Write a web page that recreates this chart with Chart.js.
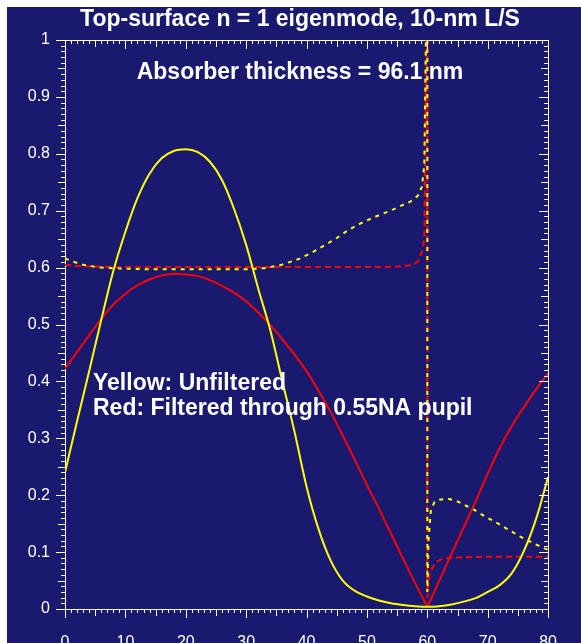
<!DOCTYPE html>
<html>
<head>
<meta charset="utf-8">
<script src="https://cdn.jsdelivr.net/npm/chart.js@4.4.0/dist/chart.umd.min.js"></script>
<style>
  html, body { margin: 0; padding: 0; background: #fff; overflow: hidden; }
  #wrap { position: absolute; left: 7px; top: 7px; width: 574px; height: 660px; }
  canvas { background: #191970; }
</style>
</head>
<body>
<div id="wrap"><canvas id="eigenChart" width="574" height="660"></canvas></div>
<script>
// values (x in nm, y = normalized intensity)
const solidX = [0,2,4,6,8,10,12,14,16,18,20,22,24,26,28,30,32,34,36,38,40,42,44,46,48,50,52,54,56,58,60,62,64,66,68,70,72,74,76,78,80];
const yellowSolid = [0.240,0.330,0.418,0.508,0.594,0.663,0.722,0.765,0.792,0.805,0.808,0.803,0.786,0.754,0.703,0.640,0.563,0.490,0.400,0.312,0.215,0.140,0.085,0.050,0.032,0.022,0.015,0.010,0.007,0.005,0.004,0.005,0.008,0.013,0.019,0.030,0.042,0.063,0.102,0.158,0.232];
const redSolid = [0.422,0.452,0.481,0.510,0.535,0.554,0.569,0.579,0.586,0.589,0.588,0.585,0.578,0.568,0.556,0.541,0.521,0.499,0.474,0.447,0.418,0.383,0.346,0.305,0.262,0.218,0.176,0.132,0.088,0.045,0.004,0.050,0.097,0.143,0.189,0.238,0.283,0.322,0.355,0.386,0.414];

const yellowDashX = [0,1,2,3,4,6,8,10,14,18,22,26,30,33,35.9,38.7,41,43.1,45,46.9,49,51.3,52.7,54.3,55.7,57.2,58.4,59.1,59.5,60,60,60.2,60.6,61.2,62,63.4,65,66.5,67.8,69.5,71.6,73.5,75.4,77.3,79.3,80];
const yellowDash = [0.616,0.612,0.608,0.605,0.603,0.600,0.599,0.598,0.597,0.597,0.597,0.597,0.597,0.599,0.605,0.615,0.627,0.640,0.652,0.666,0.678,0.689,0.695,0.702,0.709,0.716,0.726,0.742,0.780,1.2,0.03,0.12,0.175,0.188,0.192,0.194,0.189,0.181,0.174,0.163,0.151,0.139,0.127,0.117,0.107,0.104];

const redDashX = [0,2,4,8,15,25,35,45,52.9,55.1,57.2,58.4,59.1,59.5,60,60,60.2,60.4,61,61.5,62.6,64,66,70,75,80];
const redDash = [0.605,0.603,0.602,0.601,0.601,0.601,0.601,0.601,0.601,0.602,0.604,0.610,0.628,0.649,1.2,0.02,0.045,0.063,0.075,0.083,0.089,0.090,0.091,0.092,0.092,0.092];

const xTickLabels = ['0','10','20','30','40','50','60','70','80'];
const yTickLabels = ['0','0.1','0.2','0.3','0.4','0.5','0.6','0.7','0.8','0.9','1'];

const titleText = 'Top-surface n = 1 eigenmode, 10-nm L/S';
const noteText = 'Absorber thickness = 96.1 nm';
const keyLines = ['Yellow: Unfiltered', 'Red: Filtered through 0.55NA pupil'];

const pts = (xs, ys) => xs.map((x, i) => ({ x: x, y: ys[i] }));
// the filtered curve has a sharp V at the line edge (x = 60): draw each side separately
const edge = solidX.indexOf(60);
const redLeft = pts(solidX.slice(0, edge + 1), redSolid.slice(0, edge + 1));
const redRight = pts(solidX.slice(edge), redSolid.slice(edge));

const boldFont = 'bold 23px "Liberation Sans", Arial, sans-serif';
const tickFont = { family: '"Liberation Sans", Arial, sans-serif', size: 16 };

// minor/major ticks on all four sides (left+bottom outward, top+right inward)
const frameTicks = {
  id: 'frameTicks',
  afterDraw(chart) {
    const { ctx, chartArea: a, scales: { x, y } } = chart;
    ctx.save();
    ctx.strokeStyle = '#fff';
    ctx.lineWidth = 1;
    ctx.beginPath();
    for (let v = 0; v <= 80; v++) {
      const len = v % 10 === 0 ? 9 : v % 5 === 0 ? 7 : 4;
      const px = Math.round(x.getPixelForValue(v)) + 0.5;
      ctx.moveTo(px, a.bottom); ctx.lineTo(px, a.bottom + len);
      ctx.moveTo(px, a.top); ctx.lineTo(px, a.top + len);
    }
    for (let k = 0; k <= 100; k++) {
      const len = k % 10 === 0 ? 9 : k % 5 === 0 ? 7 : 4;
      const py = Math.round(y.getPixelForValue(k / 100)) + 0.5;
      ctx.moveTo(a.left, py); ctx.lineTo(a.left - len, py);
      ctx.moveTo(a.right, py); ctx.lineTo(a.right - len, py);
    }
    ctx.stroke();
    ctx.restore();
  }
};

const labels = {
  id: 'labels',
  afterDraw(chart) {
    const ctx = chart.ctx;
    ctx.save();
    ctx.fillStyle = '#fff';
    ctx.font = boldFont;
    ctx.textBaseline = 'alphabetic';
    ctx.textAlign = 'center';
    ctx.fillText(titleText, 293, 19);
    ctx.fillText(noteText, 293, 72);
    ctx.textAlign = 'left';
    ctx.fillText(keyLines[0], 86, 383);
    ctx.fillText(keyLines[1], 86, 408);
    ctx.restore();
  }
};

const ctx = document.getElementById('eigenChart').getContext('2d');
const eigenChart = new Chart(ctx, {
  type: 'line',
  data: {
    datasets: [
      { label: 'Unfiltered', data: pts(solidX, yellowSolid), borderColor: '#ffff00', borderWidth: 2, pointRadius: 0, cubicInterpolationMode: 'monotone' },
      { label: 'Filtered', data: redLeft, borderColor: '#ff0000', borderWidth: 2, pointRadius: 0, cubicInterpolationMode: 'monotone' },
      { label: 'Filtered (right)', data: redRight, borderColor: '#ff0000', borderWidth: 2, pointRadius: 0, cubicInterpolationMode: 'monotone' },
      { label: 'Unfiltered (dashed)', data: pts(yellowDashX, yellowDash), borderColor: '#ffff00', borderWidth: 2, borderDash: [4, 5], pointRadius: 0, tension: 0 },
      { label: 'Filtered (dashed)', data: pts(redDashX, redDash), borderColor: '#ff0000', borderWidth: 2, borderDash: [6, 4], pointRadius: 0, tension: 0 }
    ]
  },
  options: {
    responsive: false,
    animation: false,
    layout: { padding: { top: 33, left: 0, right: 0, bottom: 0 } },
    plugins: { legend: { display: false }, tooltip: { enabled: false }, title: { display: false } },
    scales: {
      x: {
        type: 'linear', position: 'bottom', min: 0, max: 80,
        ticks: { stepSize: 10, color: '#fff', font: tickFont, padding: 24, maxRotation: 0, autoSkip: false,
                 callback: (v, i) => xTickLabels[i] },
        grid: { drawOnChartArea: false, drawTicks: false },
        border: { color: '#fff', width: 1 },
        afterFit: s => { s.height = 58; }
      },
      x2: {
        type: 'linear', position: 'top', min: 0, max: 80,
        ticks: { display: false },
        grid: { drawOnChartArea: false, drawTicks: false },
        border: { color: '#fff', width: 1 },
        afterFit: s => { s.height = 0; }
      },
      y: {
        type: 'linear', position: 'left', min: 0, max: 1,
        ticks: { stepSize: 0.1, color: '#fff', font: tickFont, padding: 15,
                 callback: (v, i) => yTickLabels[i] },
        grid: { drawOnChartArea: false, drawTicks: false },
        border: { color: '#fff', width: 1 },
        afterFit: s => { s.width = 58; }
      },
      y2: {
        type: 'linear', position: 'right', min: 0, max: 1,
        ticks: { display: false },
        grid: { drawOnChartArea: false, drawTicks: false },
        border: { color: '#fff', width: 1 },
        afterFit: s => { s.width = 30; }
      }
    }
  },
  plugins: [frameTicks, labels]
});
</script>
</body>
</html>
